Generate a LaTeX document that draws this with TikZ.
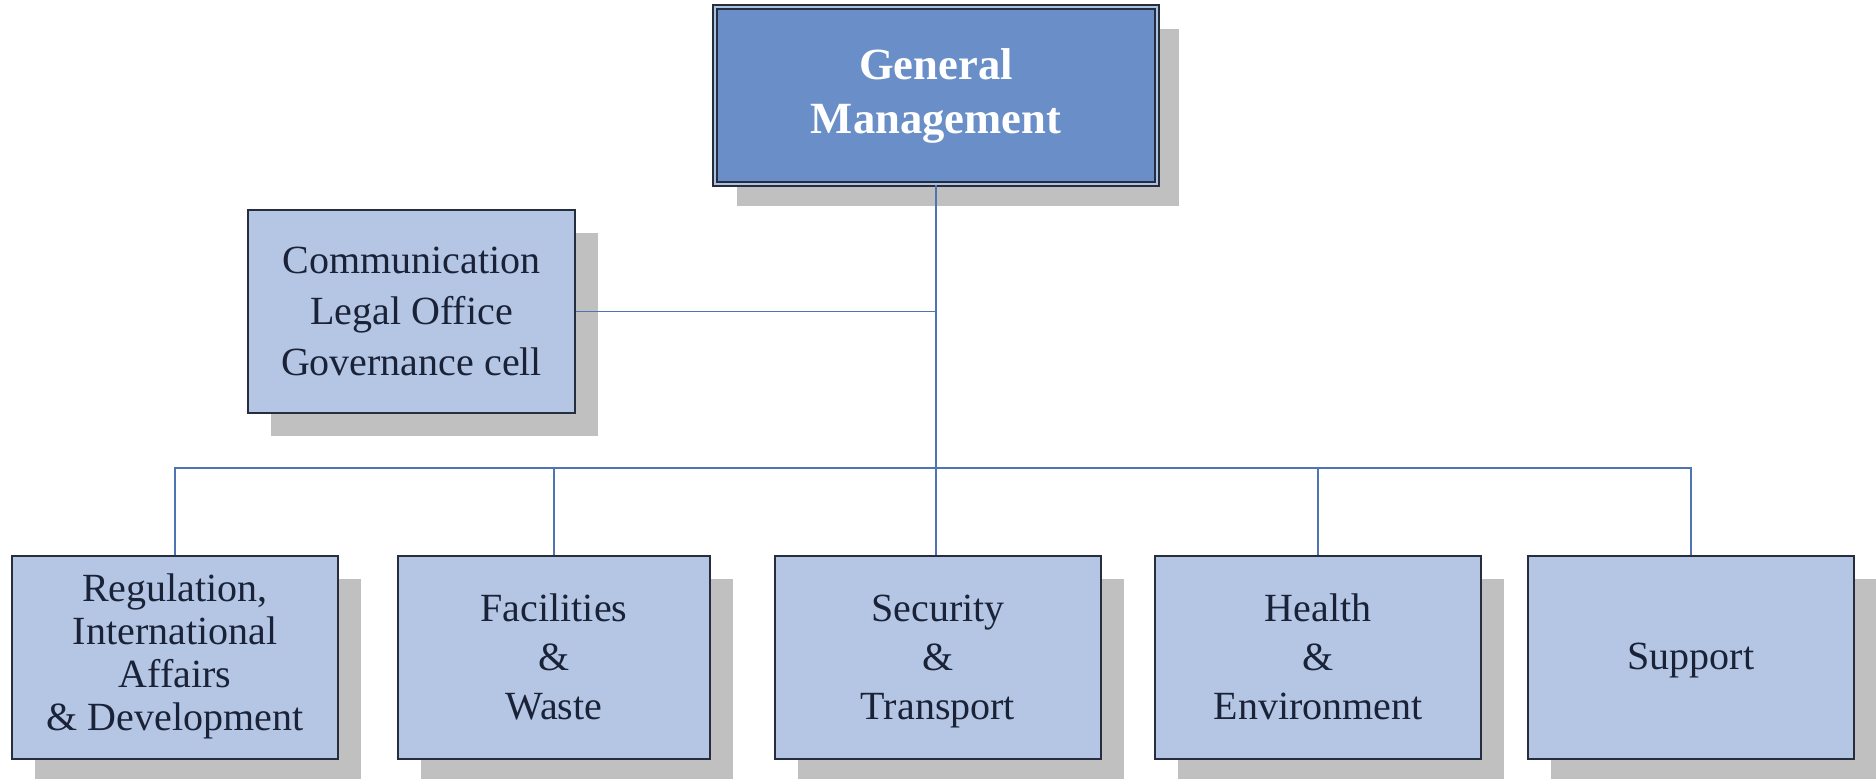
\documentclass[tikz,border=0pt]{standalone}
\usepackage{fontspec}
\setmainfont{Liberation Serif}
\usetikzlibrary{shadows}
\definecolor{boxfill}{HTML}{B4C6E4}
\definecolor{gmfill}{HTML}{6A8FC8}
\definecolor{boxline}{HTML}{262E3E}
\definecolor{connc}{HTML}{4F74B4}
\definecolor{shadowc}{HTML}{C0C0C0}
\definecolor{txtc}{HTML}{1A2238}
\newcommand{\topstrut}{\rule{0pt}{20.8pt}}
\begin{document}
\begin{tikzpicture}[x=0.5pt,y=-0.5pt,
  unitbox/.style={draw=boxline, line width=1pt, fill=boxfill, text=txtc, align=center, inner sep=0pt,
    general shadow={fill=shadowc, shadow xshift=11.5pt, shadow yshift=-11.5pt},
    font=\fontsize{20}{24.5}\selectfont},
  lowbox/.style={unitbox, minimum width=163pt, minimum height=101.5pt},
  gmbox/.style={draw=boxline, line width=0.9pt, double=gmfill!55!white, double distance=0.8pt,
    fill=gmfill, text=white, align=center, inner sep=0pt,
    minimum width=221pt, minimum height=88.5pt,
    general shadow={fill=shadowc, shadow xshift=11pt, shadow yshift=-11pt},
    font=\fontsize{22.3}{27}\selectfont\bfseries},
  conn/.style={draw=connc, line width=0.9pt}]
\fill[white] (0,0) rectangle (1876,779);
\useasboundingbox (0,0) rectangle (1876,779);

\node[gmbox] (gm) at (936,95.5) {General\\Management};
\node[unitbox, minimum width=163.5pt, minimum height=101.5pt, font=\fontsize{20}{25.5}\selectfont] (comm) at (411.5,311.5) {\topstrut Communication\\Legal Office\\Governance cell\strut};

\node[lowbox, font=\fontsize{20}{21.5}\selectfont] (reg) at (175,657.5) {\strut Regulation,\\International\\Affairs\\\& Development\strut};
\node[lowbox, minimum width=156pt] (fac) at (554,657.5) {\topstrut Facilities\\\&\\Waste\strut};
\node[lowbox] (sec) at (938,657.5) {\topstrut Security\\\&\\Transport\strut};
\node[lowbox] (hea) at (1318,657.5) {\topstrut Health\\\&\\Environment\strut};
\node[lowbox] (sup) at (1691,657.5) {\rule{0pt}{19.5pt}Support\strut};

\coordinate (bus) at (936,468);
\draw[conn] (gm.south) -- (gm.south |- sec.north);
\draw[conn] (comm.east) -- (comm.east -| gm.south);
\draw[conn] (reg.north) |- (bus) -| (sup.north);
\draw[conn] (fac.north) -- (fac.north |- bus);
\draw[conn] (hea.north) -- (hea.north |- bus);
\end{tikzpicture}
\end{document}
